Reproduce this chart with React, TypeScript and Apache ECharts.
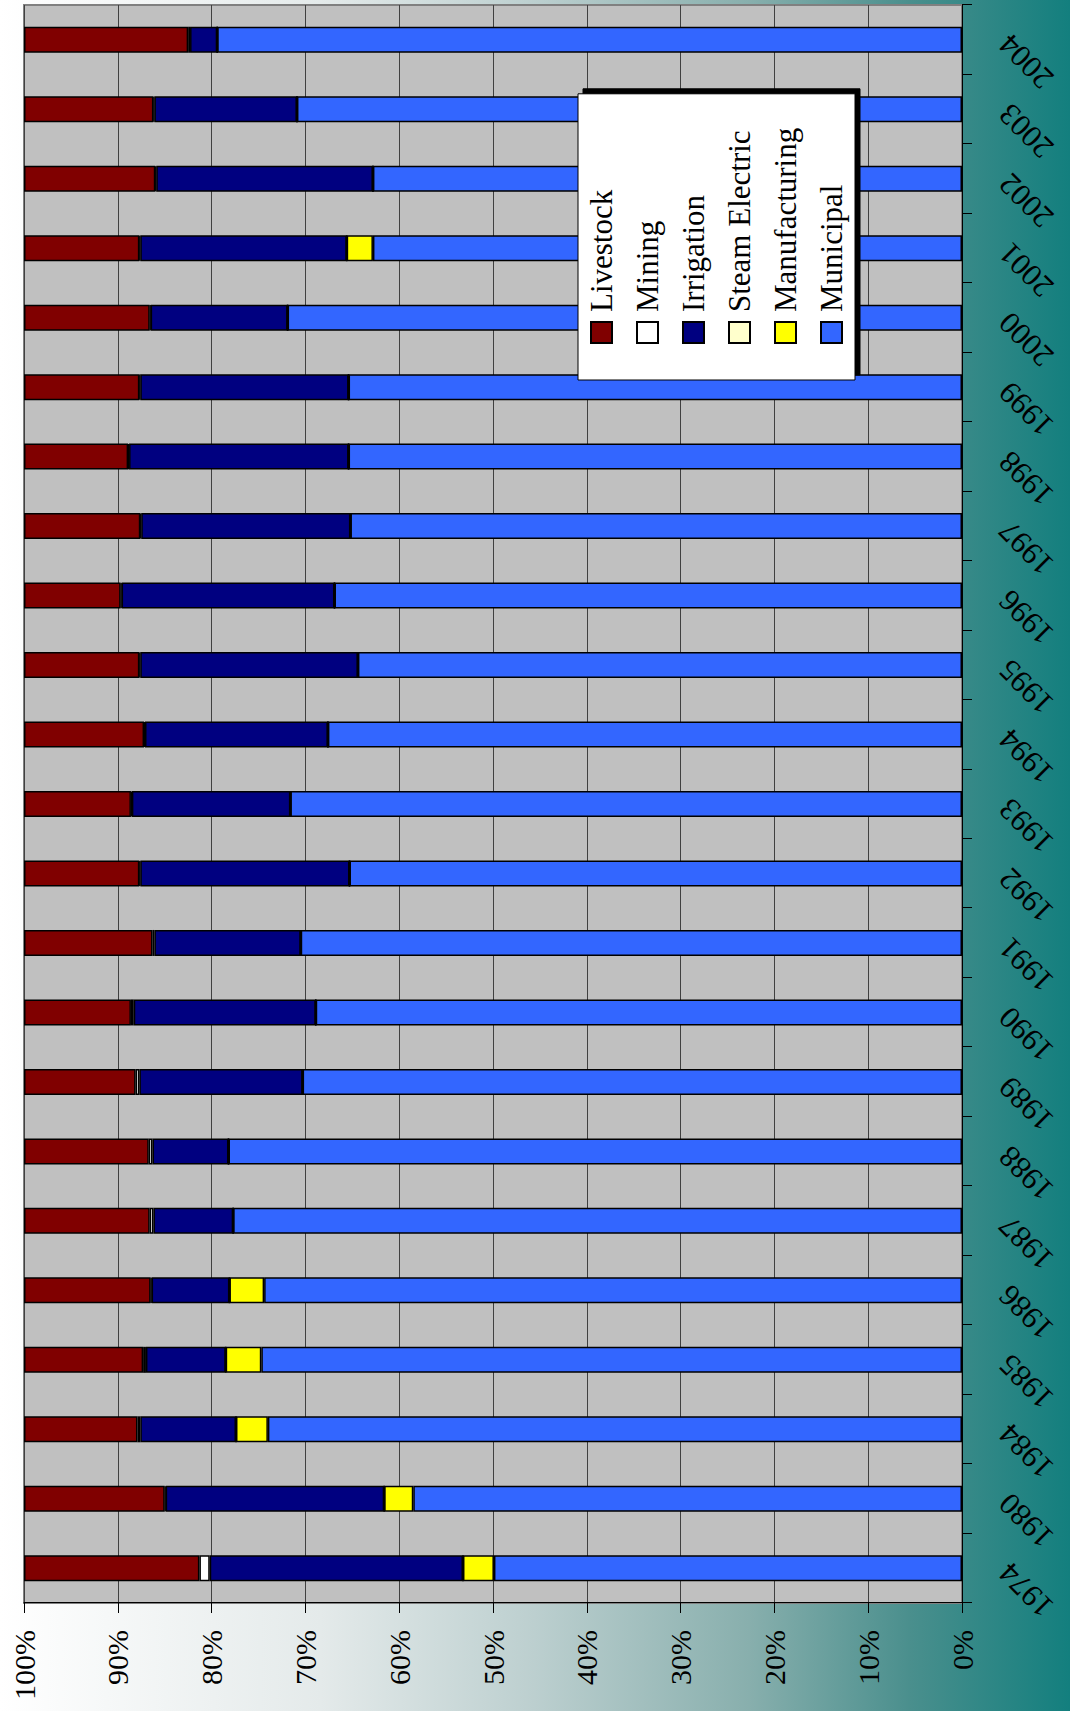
import React, { useEffect, useRef } from "react";
import * as echarts from "echarts";

const years = ["1974","1980","1984","1985","1986","1987","1988","1989","1990","1991","1992","1993","1994","1995","1996","1997","1998","1999","2000","2001","2002","2003","2004"];

const livestock = [18.7,15.0,12.1,12.7,13.5,13.4,13.3,11.9,11.4,13.7,12.3,11.4,12.8,12.3,10.3,12.4,11.1,12.3,13.4,12.3,14.0,13.8,17.5];
const mining = [1.1,0.1,0.3,0.3,0.1,0.4,0.4,0.4,0.3,0.2,0.1,0.1,0.1,0.1,0.1,0.1,0.1,0.1,0.1,0.1,0.1,0.1,0.2];
const irrigation = [27.0,23.3,10.2,8.5,8.3,8.5,8.1,17.4,19.4,15.6,22.3,16.9,19.5,23.2,22.7,22.3,23.4,22.2,14.6,22.0,23.1,15.2,2.9];
const steamElectric = [0,0,0,0,0,0,0,0,0,0,0,0,0,0,0,0,0,0,0,0,0,0,0];
const manufacturing = [3.3,3.1,3.4,3.8,3.7,0,0,0,0,0,0,0,0,0,0,0,0,0,0,2.8,0,0,0];
const municipal = [49.9,58.5,74.0,74.7,74.4,77.7,78.2,70.3,68.9,70.5,65.3,71.6,67.6,64.4,66.9,65.2,65.4,65.4,71.9,62.8,62.8,70.9,79.4];

const legendOrder = ["Livestock","Mining","Irrigation","Steam Electric","Manufacturing","Municipal"];
const percentTicks = [0,10,20,30,40,50,60,70,80,90,100];

const FONT = "Liberation Serif";
const AXIS_FONT = "'Liberation Serif', 'Times New Roman', serif";

export default function App() {
  const ref = useRef<HTMLDivElement>(null);
  useEffect(() => {
    if (!ref.current) return;
    const chart = echarts.init(ref.current, null, { renderer: "svg" });
    const mk = (name: string, data: number[], color: string) => ({
      name,
      type: "bar",
      stack: "total",
      data,
      barWidth: 26,
      emphasis: { disabled: true },
      itemStyle: { color, borderColor: "#000", borderWidth: 1.5 },
    });
    chart.setOption({
      animation: false,
      textStyle: { fontFamily: FONT, color: "#000" },
      backgroundColor: {
        type: "linear",
        x: 0, y: 0, x2: 0, y2: 1,
        colorStops: [
          { offset: 0, color: "#ffffff" },
          { offset: 0.3, color: "#e4eaea" },
          { offset: 0.5, color: "#bccfcf" },
          { offset: 0.7, color: "#88afad" },
          { offset: 0.85, color: "#4a8f8d" },
          { offset: 1, color: "#137f7e" },
        ],
      },
      grid: {
        left: 108, right: 5, top: 24, bottom: 108,
        show: true,
        backgroundColor: "#c0c0c0",
        borderColor: "#808080",
        borderWidth: 2,
      },
      legend: {
        orient: "vertical",
        left: 1331,
        top: 578,
        data: legendOrder,
        icon: "rect",
        itemWidth: 21,
        itemHeight: 21,
        itemGap: 15,
        padding: [8, 34, 8, 36],
        backgroundColor: "#ffffff",
        borderColor: "#000",
        borderWidth: 1,
        shadowColor: "#000",
        shadowOffsetX: 5,
        shadowOffsetY: 5,
        shadowBlur: 0,
        selectedMode: false,
        textStyle: { fontFamily: FONT, fontSize: 31, color: "#000", padding: [0, 0, 0, 5] },
      },
      xAxis: {
        type: "category",
        data: years,
        boundaryGap: true,
        axisLine: { show: true, lineStyle: { color: "#000", width: 1 } },
        axisTick: { show: true, length: 10, alignWithLabel: false, lineStyle: { color: "#000" } },
        axisLabel: {
          interval: 0,
          rotate: 45,
          margin: 42,
          fontFamily: AXIS_FONT,
          fontSize: 31,
          color: "#000",
        },
        splitLine: { show: false },
      },
      yAxis: {
        type: "value",
        min: 0,
        max: 100,
        interval: 10,
        axisLine: { show: true, lineStyle: { color: "#000", width: 1 } },
        axisTick: { show: true, length: 10, lineStyle: { color: "#000" } },
        axisLabel: {
          formatter: (v: number) => (percentTicks.includes(v) ? v + "%" : ""),
          margin: 27,
          fontFamily: AXIS_FONT,
          fontSize: 30,
          color: "#000",
        },
        splitLine: { show: true, lineStyle: { color: "#404040", width: 1 } },
      },
      series: [
        mk("Municipal", municipal, "#3366ff"),
        mk("Manufacturing", manufacturing, "#ffff00"),
        mk("Steam Electric", steamElectric, "#ffffcc"),
        mk("Irrigation", irrigation, "#000080"),
        mk("Mining", mining, "#ffffff"),
        mk("Livestock", livestock, "#800000"),
      ],
    });
    return () => chart.dispose();
  }, []);

  return (
    <div style={{ position: "absolute", left: 0, top: 0, width: 1070, height: 1711, overflow: "hidden" }}>
      <div
        ref={ref}
        style={{
          position: "absolute",
          left: 0,
          top: 0,
          width: 1711,
          height: 1070,
          transformOrigin: "0 0",
          transform: "translateY(1711px) rotate(-90deg)",
        }}
      />
    </div>
  );
}
